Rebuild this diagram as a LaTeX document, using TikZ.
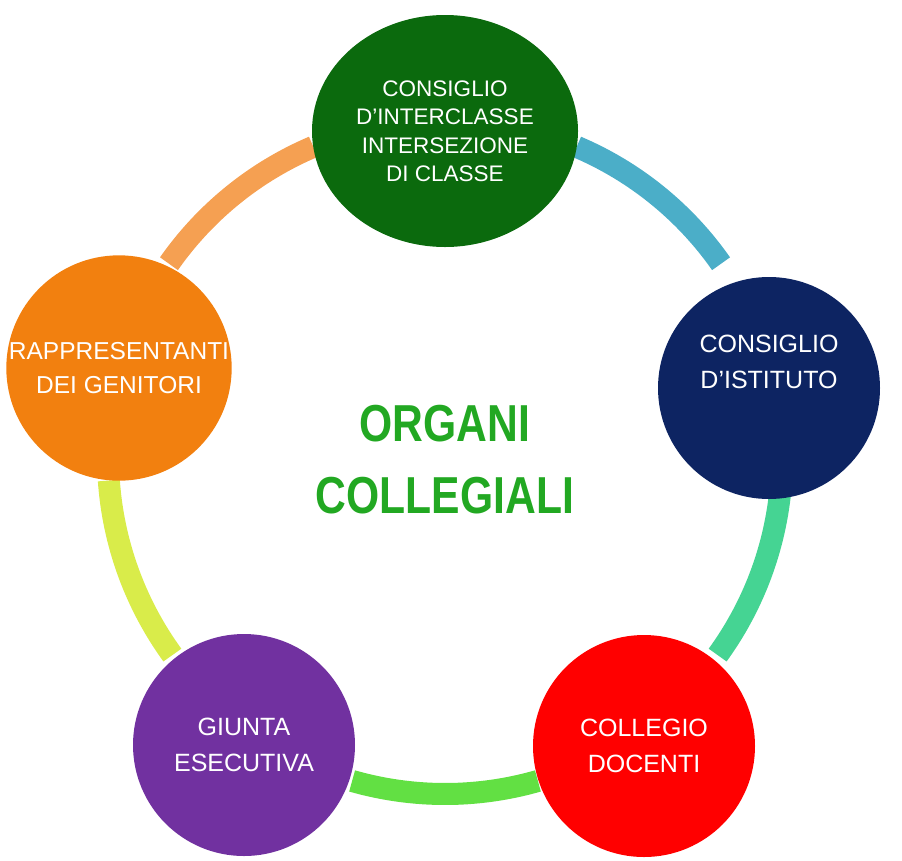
\documentclass[tikz,border=0pt]{standalone}
\usepackage{fontspec}
\setmainfont{Liberation Sans}
\usetikzlibrary{shapes.geometric}
\definecolor{cgreen}{HTML}{0B6A0D}
\definecolor{cnavy}{HTML}{0D2462}
\definecolor{corange}{HTML}{F2800F}
\definecolor{cpurple}{HTML}{7131A0}
\definecolor{cred}{HTML}{FF0000}
\definecolor{aorange}{HTML}{F5A052}
\definecolor{ablue}{HTML}{4BAEC8}
\definecolor{agreen}{HTML}{45D493}
\definecolor{alime}{HTML}{62E043}
\definecolor{ayellow}{HTML}{D9EC4A}
\definecolor{ttl}{HTML}{22A822}
\tikzset{
 org/.style={circle,minimum size=222pt,inner sep=0pt,text=white,align=center,font=\fontsize{25}{36}\selectfont},
 ringarc/.style={line width=22pt}
}
\begin{document}
\begin{tikzpicture}[x=1pt,y=-1pt]
\useasboundingbox (0,0) rectangle (902,860);
\foreach \a/\b/\c in {215/247/aorange,293/325/ablue,4/36/agreen,74/106/alime,144/176/ayellow}
  \draw[ringarc,\c] plot[domain=\a:\b,samples=40] ({445+337*cos(\x)},{457+337*sin(\x)});
\node[org,ellipse,minimum width=266pt,minimum height=232pt,fill=cgreen,font=\fontsize{22.5}{28.5}\selectfont] (cic) at (445,131) {CONSIGLIO\\D’INTERCLASSE\\INTERSEZIONE\\DI CLASSE};
\node[org,fill=cnavy] (ci) at (769,388) {};
\node[text=white,align=center,font=\fontsize{25}{36}\selectfont] (cit) at (769,362) {CONSIGLIO\\D’ISTITUTO};
\node[org,fill=corange,font=\fontsize{24.5}{34}\selectfont] (rg) at (119,368) {RAPPRESENTANTI\\DEI GENITORI};
\node[org,fill=cpurple] (ge) at (244,745) {GIUNTA\\ESECUTIVA};
\node[org,fill=cred] (cd) at (644,746) {COLLEGIO\\DOCENTI};
\node[text=ttl,align=center,font=\bfseries\fontsize{52}{72}\selectfont] (t) at (445,460)
  {\scalebox{0.82}[1]{ORGANI}\\\scalebox{0.82}[1]{COLLEGIALI}};
\end{tikzpicture}
\end{document}
